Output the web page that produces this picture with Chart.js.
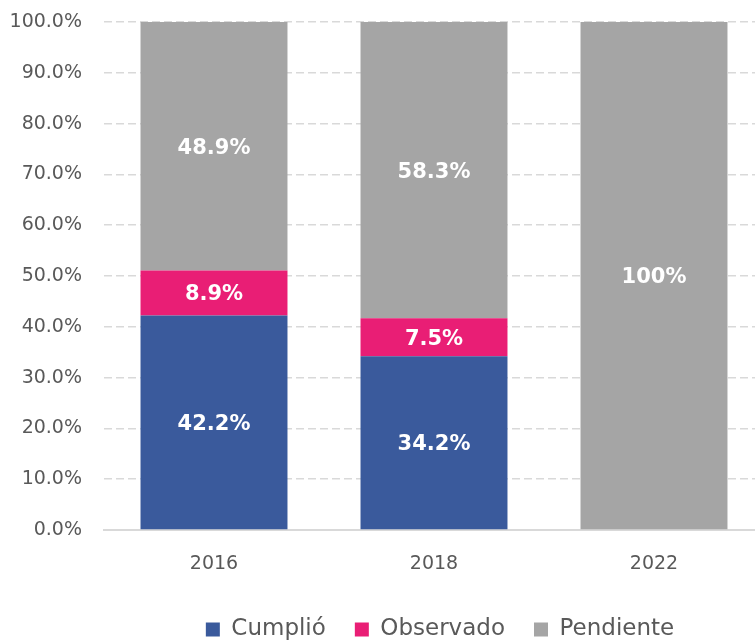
<!DOCTYPE html>
<html>
<head>
<meta charset="utf-8">
<script src="https://cdn.jsdelivr.net/npm/chart.js@4/dist/chart.umd.min.js"></script>
<style>
  html, body { margin: 0; padding: 0; background: #fff; overflow: hidden; }
  #wrap { width: 755px; height: 643px; overflow: hidden; }
</style>
</head>
<body>
<div id="wrap"><canvas id="chart" width="764" height="643"></canvas></div>
<script>
// years and stacked shares (%)
const years = ["2016", "2018", "2022"];
const cumplio = [42.2, 34.2, 0];
const observado = [8.9, 7.5, 0];
const pendiente = [48.9, 58.3, 100];
const cumplioLabels = ["42.2%", "34.2%", ""];
const observadoLabels = ["8.9%", "7.5%", ""];
const pendienteLabels = ["48.9%", "58.3%", "100%"];

const FONT = "'DejaVu Sans', sans-serif";
const GREY_TEXT = "#595959";

// white value text centred inside each bar segment
const segmentLabels = {
  id: "segmentLabels",
  afterDatasetsDraw(chart) {
    const ctx = chart.ctx;
    ctx.save();
    ctx.font = "bold 21px " + FONT;
    ctx.fillStyle = "#ffffff";
    ctx.textAlign = "center";
    ctx.textBaseline = "middle";
    chart.data.datasets.forEach(function (ds, i) {
      const meta = chart.getDatasetMeta(i);
      meta.data.forEach(function (bar, j) {
        const txt = ds.valueLabels[j];
        if (!txt || !ds.data[j]) return;
        const mid = (bar.y + bar.base) / 2;
        ctx.fillText(txt, bar.x, mid + 2);
      });
    });
    ctx.restore();
  }
};

// nudge the legend row a bit to the right
const legendShift = {
  id: "legendShift",
  afterLayout(chart) {
    chart.legend.left += 58;
    chart.legend.right += 58;
  }
};

new Chart(document.getElementById("chart"), {
  type: "bar",
  data: {
    labels: years,
    datasets: [
      { label: "Cumplió", data: cumplio, valueLabels: cumplioLabels, backgroundColor: "#3A5A9C" },
      { label: "Observado", data: observado, valueLabels: observadoLabels, backgroundColor: "#E91E75" },
      { label: "Pendiente", data: pendiente, valueLabels: pendienteLabels, backgroundColor: "#A5A5A5" }
    ]
  },
  options: {
    responsive: false,
    animation: false,
    layout: { padding: { top: 22, bottom: -8, left: 0, right: 0 } },
    datasets: { bar: { categoryPercentage: 1, barPercentage: 0.668 } },
    scales: {
      x: {
        stacked: true,
        grid: { display: false, drawTicks: false },
        border: { display: true, color: "#d9d9d9", width: 2 },
        ticks: { color: GREY_TEXT, font: { family: FONT, size: 19 }, padding: 23 },
        afterFit: function (scale) { scale.height = 59; }
      },
      y: {
        stacked: true,
        min: 0,
        max: 100,
        ticks: {
          stepSize: 10,
          color: GREY_TEXT,
          font: { family: FONT, size: 19 },
          padding: 2,
          callback: function (v) { return v.toFixed(1) + "%"; }
        },
        grid: { color: "#d9d9d9", lineWidth: 1.5, drawTicks: true, tickLength: 20, tickColor: "rgba(0,0,0,0)" },
        border: { display: false, dash: [8, 4] },
        afterFit: function (scale) { scale.width = 104; }
      }
    },
    plugins: {
      tooltip: { enabled: false },
      legend: {
        position: "bottom",
        labels: {
          boxWidth: 14,
          boxHeight: 14,
          padding: 29,
          color: GREY_TEXT,
          font: { family: FONT, size: 23 }
        }
      }
    }
  },
  plugins: [segmentLabels, legendShift]
});
</script>
</body>
</html>
